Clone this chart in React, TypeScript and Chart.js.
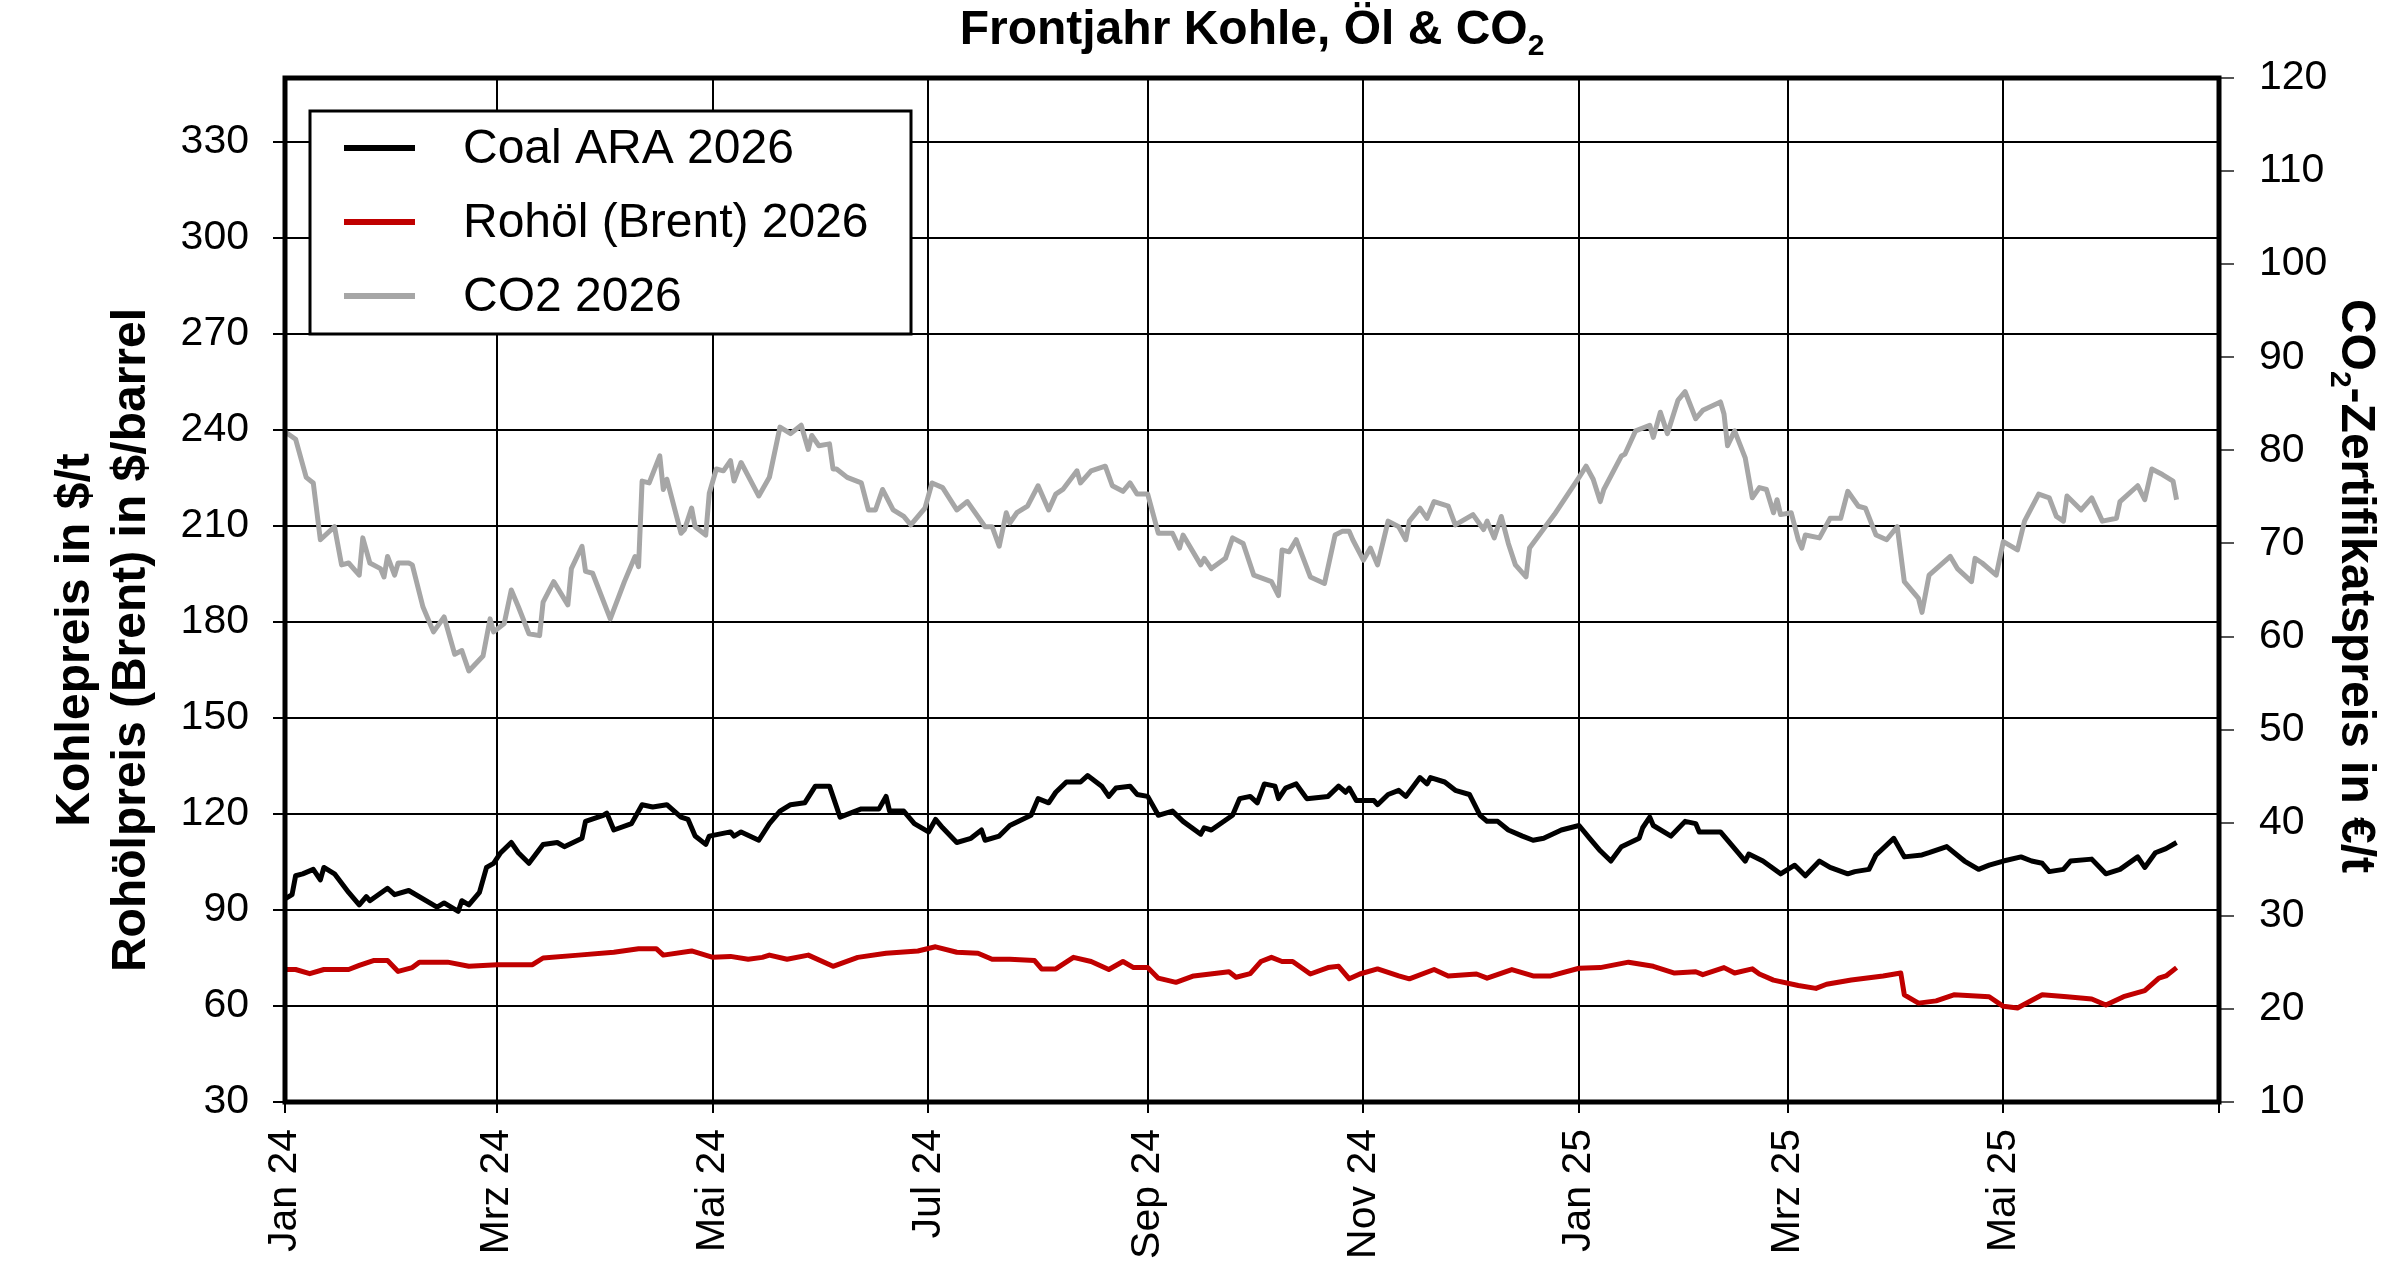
import { useEffect, useRef } from 'react'
import { Chart, registerables } from 'chart.js'
Chart.register(...registerables)

const FONT = "'Liberation Sans', Arial, Helvetica, sans-serif"

// x positions are days since 1 Jan 2024
const monthTicks = [0, 60, 121, 182, 244, 305, 366, 425, 486, 547]
const monthLabels = ['Jan 24', 'Mrz 24', 'Mai 24', 'Jul 24', 'Sep 24', 'Nov 24', 'Jan 25', 'Mrz 25', 'Mai 25', '']

const coalDays = [
    0, 2, 3, 5, 8, 10, 11, 14, 18, 21,
    23, 24, 29, 31, 35, 43, 45, 49, 50, 52,
    55, 57, 59, 61, 64, 66, 69, 73, 77, 79,
    84, 85, 90, 91, 93, 98, 101, 104, 108, 112,
    114, 116, 119, 120, 126, 127, 129, 134, 137, 140,
    143, 147, 150, 154, 157, 163, 168, 170, 171, 175,
    178, 182, 184, 186, 190, 194, 197, 198, 202, 205,
    211, 213, 216, 218, 221, 225, 227, 231, 233, 235,
    239, 241, 244, 247, 251, 254, 259, 260, 262, 268,
    270, 273, 275, 277, 280, 281, 283, 286, 289, 295,
    298, 300, 301, 303, 308, 309, 312, 315, 317, 321,
    323, 324, 328, 331, 335, 338, 340, 343, 346, 350,
    353, 356, 361, 366, 369, 372, 375, 378, 383, 384,
    386, 387, 392, 396, 399, 400, 406, 409, 413, 414,
    418, 423, 427, 430, 434, 437, 442, 444, 448, 450,
    455, 458, 463, 465, 470, 475, 479, 482, 486, 491,
    494, 497, 499, 503, 505, 511, 515, 519, 524, 526,
    529, 532, 535,
]
const coalPrice = [
    93.5, 94.8, 100.7, 101.3, 102.7, 99.4, 103.3, 101.3, 95.5, 91.6,
    94.2, 92.9, 96.8, 94.8, 96.1, 90.9, 92.2, 89.6, 92.9, 91.6,
    95.5, 103.3, 104.6, 107.9, 111.1, 107.9, 104.6, 110.5, 111.1, 109.8,
    112.4, 117.7, 119.6, 120.3, 115.0, 117.0, 122.9, 122.2, 122.9, 119.0,
    118.3, 113.1, 110.5, 113.1, 114.4, 113.1, 114.4, 111.8, 117.0, 120.9,
    122.9, 123.5, 128.7, 128.7, 119.0, 121.6, 121.6, 125.5, 120.9, 120.9,
    117.0, 114.4, 118.3, 115.7, 111.1, 112.4, 115.0, 111.8, 113.1, 116.4,
    119.6, 124.8, 123.5, 126.8, 130.0, 130.0, 132.0, 128.7, 125.5, 128.1,
    128.7, 126.1, 125.5, 119.6, 120.9, 117.7, 113.7, 115.7, 115.0, 119.6,
    124.8, 125.5, 123.5, 129.4, 128.7, 124.8, 128.1, 129.4, 124.8, 125.5,
    128.7, 126.8, 128.1, 124.2, 124.2, 122.9, 126.1, 127.4, 125.5, 131.4,
    129.4, 131.4, 130.0, 127.4, 126.1, 119.6, 117.7, 117.7, 115.0, 113.1,
    111.8, 112.4, 115.0, 116.4, 112.4, 108.5, 105.3, 109.8, 112.4, 115.7,
    119.0, 116.4, 113.1, 117.7, 117.0, 114.4, 114.4, 110.5, 105.3, 107.5,
    105.3, 101.3, 104.0, 100.7, 105.3, 103.3, 101.3, 102.0, 102.7, 107.2,
    112.4, 106.6, 107.2, 107.9, 109.8, 105.3, 102.7, 104.0, 105.3, 106.6,
    105.3, 104.6, 102.0, 102.7, 105.3, 105.9, 101.3, 102.7, 106.6, 103.3,
    107.9, 109.2, 111.1,
]

const oilDays = [
    0, 3, 7, 11, 18, 21, 25, 29, 32, 36,
    38, 46, 52, 60, 70, 73, 83, 93, 100, 105,
    107, 115, 121, 126, 131, 135, 137, 142, 148, 155,
    162, 170, 179, 184, 190, 196, 200, 205, 212, 214,
    218, 223, 228, 233, 237, 240, 244, 247, 252, 257,
    267, 269, 273, 276, 279, 282, 285, 290, 295, 298,
    301, 304, 309, 315, 318, 325, 329, 337, 340, 347,
    353, 358, 366, 372, 380, 387, 393, 399, 401, 407,
    410, 415, 417, 421, 428, 433, 436, 443, 452, 457,
    458, 462, 467, 472, 482, 486, 490, 497, 504, 511,
    515, 520, 526, 530, 532, 535,
]
const oilPrice = [
    71.4, 71.4, 70.1, 71.4, 71.4, 72.7, 74.2, 74.2, 70.8, 72.0,
    73.7, 73.7, 72.4, 72.9, 72.9, 75.0, 75.9, 76.8, 77.9, 77.9,
    75.9, 77.2, 75.2, 75.5, 74.6, 75.2, 75.9, 74.6, 75.9, 72.4,
    75.2, 76.5, 77.2, 78.5, 76.8, 76.5, 74.6, 74.6, 74.2, 71.6,
    71.6, 75.2, 73.9, 71.4, 73.9, 72.0, 72.0, 68.7, 67.4, 69.4,
    70.7, 69.0, 70.1, 73.9, 75.2, 73.9, 73.9, 70.0, 72.0, 72.4,
    68.5, 70.0, 71.6, 69.4, 68.5, 71.4, 69.4, 70.0, 68.7, 71.4,
    69.4, 69.4, 71.8, 72.0, 73.7, 72.4, 70.3, 70.7, 69.8, 72.0,
    70.3, 71.6, 70.0, 68.1, 66.4, 65.5, 66.8, 68.1, 69.4, 70.3,
    63.5, 60.9, 61.6, 63.5, 62.9, 59.9, 59.4, 63.5, 62.9, 62.2,
    60.3, 62.9, 64.8, 68.7, 69.4, 72.0,
]

const co2Days = [
    0, 3, 6, 8, 10, 14, 16, 18, 21, 22,
    24, 27, 28, 29, 31, 32, 35, 36, 39, 42,
    45, 48, 50, 52, 56, 58, 59, 62, 64, 66,
    69, 72, 73, 76, 80, 81, 84, 85, 87, 92,
    96, 99, 100, 101, 103, 106, 107, 108, 112, 113,
    115, 116, 119, 120, 122, 124, 126, 127, 129, 133,
    134, 137, 140, 143, 146, 148, 149, 151, 154, 155,
    156, 159, 163, 165, 167, 169, 172, 175, 177, 181,
    183, 186, 190, 193, 198, 200, 202, 204, 205, 207,
    210, 213, 216, 218, 220, 224, 225, 228, 232, 234,
    237, 239, 241, 244, 247, 251, 253, 254, 259, 260,
    262, 266, 268, 271, 274, 279, 281, 282, 284, 286,
    290, 294, 297, 299, 301, 302, 305, 307, 309, 312,
    315, 317, 318, 321, 323, 325, 329, 331, 336, 339,
    340, 342, 344, 346, 348, 351, 352, 359, 366, 368,
    370, 372, 373, 378, 379, 382, 386, 387, 389, 391,
    394, 396, 399, 401, 406, 407, 408, 410, 413, 415,
    417, 419, 421, 422, 423, 426, 428, 429, 430, 434,
    437, 440, 442, 445, 447, 450, 453, 456, 458, 462,
    463, 465, 471, 473, 477, 478, 480, 484, 486, 490,
    492, 496, 499, 501, 503, 504, 508, 511, 514, 518,
    519, 524, 526, 528, 531, 534, 535,
]
const co2Price = [
    82.0, 81.2, 77.1, 76.5, 70.4, 71.8, 67.7, 67.9, 66.6, 70.6,
    67.9, 67.3, 66.4, 68.6, 66.6, 67.9, 67.9, 67.7, 63.2, 60.5,
    62.1, 58.1, 58.5, 56.3, 57.9, 61.9, 60.5, 61.4, 65.0, 63.2,
    60.3, 60.1, 63.7, 65.9, 63.4, 67.3, 69.7, 67.0, 66.8, 61.9,
    65.9, 68.6, 67.5, 76.7, 76.5, 79.4, 75.8, 76.9, 71.1, 71.5,
    73.8, 71.8, 70.9, 75.4, 78.0, 77.8, 78.9, 76.7, 78.7, 75.8,
    75.1, 77.1, 82.5, 81.8, 82.7, 80.1, 81.6, 80.5, 80.7, 78.0,
    78.0, 77.1, 76.5, 73.6, 73.6, 75.8, 73.6, 72.9, 72.0, 73.8,
    76.5, 76.0, 73.6, 74.5, 71.8, 71.8, 69.7, 73.3, 72.2, 73.3,
    74.0, 76.2, 73.6, 75.3, 75.8, 77.8, 76.5, 77.8, 78.3, 76.2,
    75.6, 76.5, 75.3, 75.3, 71.1, 71.1, 69.5, 70.9, 67.7, 68.4,
    67.3, 68.4, 70.6, 70.0, 66.6, 65.9, 64.4, 69.3, 69.1, 70.4,
    66.4, 65.7, 70.9, 71.3, 71.3, 70.4, 68.2, 69.5, 67.7, 72.4,
    71.8, 70.4, 72.4, 73.8, 72.7, 74.5, 74.0, 72.0, 73.1, 71.5,
    72.4, 70.6, 72.9, 70.0, 67.7, 66.4, 69.5, 73.1, 77.1, 78.3,
    76.9, 74.5, 75.8, 79.4, 79.6, 82.1, 82.7, 81.4, 84.1, 81.8,
    85.4, 86.3, 83.4, 84.3, 85.2, 83.9, 80.5, 82.1, 79.2, 74.9,
    76.0, 75.8, 73.3, 74.7, 73.1, 73.3, 70.4, 69.5, 70.9, 70.6,
    72.7, 72.7, 75.6, 74.0, 73.8, 70.9, 70.4, 71.8, 65.9, 64.1,
    62.6, 66.6, 68.6, 67.3, 65.9, 68.4, 67.9, 66.6, 70.2, 69.3,
    72.4, 75.3, 74.9, 72.9, 72.4, 75.1, 73.6, 74.9, 72.4, 72.7,
    74.5, 76.2, 74.7, 78.0, 77.4, 76.7, 74.7,
]

const COAL = '#000000'
const OIL = '#c00000'
const CO2 = '#a6a6a6'

const toPoints = (xs: number[], ys: number[]) => xs.map((x, i) => ({ x, y: ys[i] }))

// draws text with a lowered small "2" where flagged, centred on cx
function drawParts(ctx: CanvasRenderingContext2D, parts: [string, boolean][], cx: number, baseline: number, size: number) {
    const widths = parts.map(([t, sub]) => {
        ctx.font = `bold ${sub ? Math.round(size * 0.62) : size}px ${FONT}`
        return ctx.measureText(t).width
    })
    let x = cx - widths.reduce((a, b) => a + b, 0) / 2
    parts.forEach(([t, sub], i) => {
        ctx.font = `bold ${sub ? Math.round(size * 0.62) : size}px ${FONT}`
        ctx.fillText(t, x, baseline + (sub ? size * 0.22 : 0))
        x += widths[i]
    })
}

const decorPlugin = {
    id: 'decor',
    afterDatasetsDraw(chart: any) {
        const { ctx, chartArea: a } = chart
        ctx.save()
        ctx.strokeStyle = '#000'
        ctx.lineWidth = 5
        ctx.strokeRect(a.left, a.top, a.right - a.left, a.bottom - a.top)

        // legend box
        const lx = a.left + 25, ly = a.top + 33, lw = 601, lh = 223
        ctx.fillStyle = '#fff'
        ctx.fillRect(lx, ly, lw, lh)
        ctx.lineWidth = 3
        ctx.strokeRect(lx, ly, lw, lh)
        ctx.font = `48px ${FONT}`
        ctx.textAlign = 'left'
        ctx.textBaseline = 'middle'
        chart.data.datasets.forEach((ds: any, i: number) => {
            const y = ly + 37 + i * 74
            ctx.strokeStyle = ds.borderColor
            ctx.lineWidth = 6
            ctx.beginPath()
            ctx.moveTo(lx + 34, y)
            ctx.lineTo(lx + 105, y)
            ctx.stroke()
            ctx.fillStyle = '#000'
            ctx.fillText(ds.label, lx + 153, y + 2)
        })
        ctx.restore()
    },
    afterDraw(chart: any) {
        const { ctx, chartArea: a } = chart
        ctx.save()
        ctx.fillStyle = '#000'
        ctx.textAlign = 'left'
        ctx.textBaseline = 'alphabetic'
        drawParts(ctx, [['Frontjahr Kohle, Öl & CO', false], ['2', true]], (a.left + a.right) / 2, 44, 48)

        // left axis titles
        ctx.save()
        ctx.translate(0, a.top + 562)
        ctx.rotate(-Math.PI / 2)
        drawParts(ctx, [['Kohlepreis in $/t', false]], 0, 89, 48)
        drawParts(ctx, [['Rohölpreis (Brent) in $/barrel', false]], 0, 145, 48)
        ctx.restore()

        // right axis title
        ctx.save()
        ctx.translate(a.right + 140, a.top + 508)
        ctx.rotate(Math.PI / 2)
        drawParts(ctx, [['CO', false], ['2', true], ['-Zertifikatspreis in €/t', false]], 0, 17, 48)
        ctx.restore()
        ctx.restore()
    },
}

export default function App() {
    const canvasRef = useRef<HTMLCanvasElement>(null)
    const chartRef = useRef<Chart | null>(null)

    useEffect(() => {
        if (!canvasRef.current) return
        document.body.style.margin = '0'
        document.documentElement.style.overflow = 'hidden'
        const ctx = canvasRef.current.getContext('2d')!
        chartRef.current?.destroy()
        const line = { fill: false, tension: 0, borderWidth: 5, pointRadius: 0, borderJoinStyle: 'round' }
        chartRef.current = new Chart(ctx, {
            type: 'line',
            data: {
                datasets: [
                    { label: 'Coal ARA 2026', data: toPoints(coalDays, coalPrice), borderColor: COAL, backgroundColor: COAL, yAxisID: 'y', ...line },
                    { label: 'Rohöl (Brent) 2026', data: toPoints(oilDays, oilPrice), borderColor: OIL, backgroundColor: OIL, yAxisID: 'y', ...line },
                    { label: 'CO2 2026', data: toPoints(co2Days, co2Price), borderColor: CO2, backgroundColor: CO2, yAxisID: 'y2', ...line },
                ],
            },
            options: {
                animation: false,
                responsive: true,
                maintainAspectRatio: false,
                layout: { padding: { top: 78, left: 0, right: 0, bottom: 0 } },
                plugins: {
                    legend: { display: false },
                    title: { display: false },
                    tooltip: { enabled: false },
                },
                scales: {
                    x: {
                        type: 'linear',
                        min: 0,
                        max: 547,
                        afterBuildTicks: (s: any) => { s.ticks = monthTicks.map(v => ({ value: v })) },
                        afterFit: (s: any) => { s.height = 182 },
                        ticks: {
                            autoSkip: false,
                            minRotation: 90,
                            maxRotation: 90,
                            padding: 16,
                            color: '#000',
                            font: { size: 41, family: FONT },
                            callback: (_v: any, i: number) => monthLabels[i],
                        },
                        grid: { color: '#000', lineWidth: 2, tickLength: 11 },
                        border: { display: false },
                    },
                    y: {
                        position: 'left',
                        min: 30,
                        max: 350,
                        afterBuildTicks: (s: any) => { s.ticks = s.ticks.filter((t: any) => t.value <= 330) },
                        afterFit: (s: any) => { s.width = 285 },
                        ticks: { stepSize: 30, padding: 24, color: '#000', font: { size: 41, family: FONT } },
                        grid: { color: '#000', lineWidth: 2, tickLength: 12 },
                        border: { display: false },
                    },
                    y2: {
                        position: 'right',
                        min: 10,
                        max: 120,
                        afterFit: (s: any) => { s.width = 181 },
                        ticks: { stepSize: 10, padding: 25, color: '#000', font: { size: 41, family: FONT } },
                        grid: { drawOnChartArea: false, color: '#555', lineWidth: 2, tickLength: 15 },
                        border: { display: false },
                    },
                },
            },
            plugins: [decorPlugin],
        } as any)
        return () => { chartRef.current?.destroy(); chartRef.current = null }
    }, [])

    return (
        <div style={{ position: 'relative', width: 2400, height: 1284, background: '#fff' }}>
            <canvas ref={canvasRef} />
        </div>
    )
}
